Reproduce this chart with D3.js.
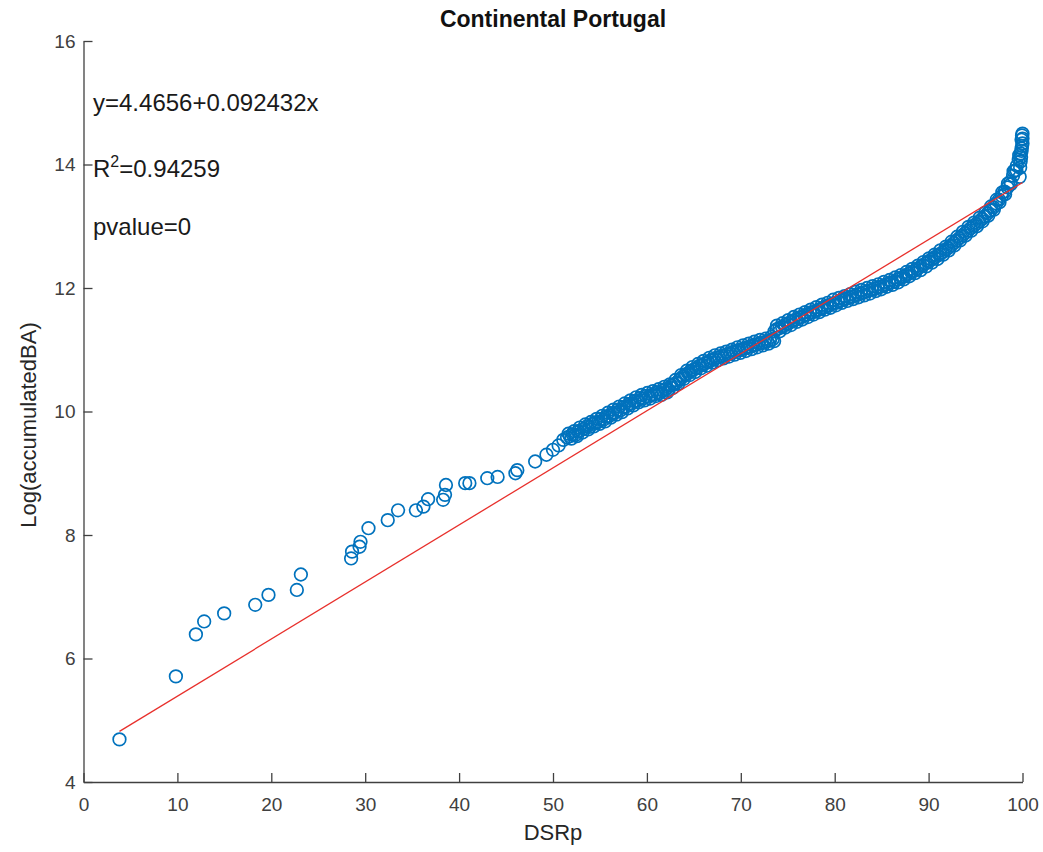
<!DOCTYPE html>
<html>
<head>
<meta charset="utf-8">
<script src="https://cdn.jsdelivr.net/npm/d3@7"></script>
<style>
  body { margin: 0; background: #fff; }
  svg { display: block; font-family: "Liberation Sans", Arial, Helvetica, sans-serif; }
</style>
</head>
<body>
<svg id="svg" width="1043" height="852"></svg>
<script>
// scatter: DSRp vs log of accumulated burnt area
let dsrp = [
  3.83, 9.84, 11.97, 12.85, 14.98, 18.29, 19.70, 22.72, 23.15, 28.5, 28.6, 29.4, 29.5, 30.35,
  32.4, 33.5, 35.4, 36.2, 36.7, 38.3, 38.5, 38.6, 40.65, 41.1, 43.0, 44.1, 46.0, 46.2, 48.1,
  49.3, 50.0, 50.6, 51.1,
  51.5, 51.8, 52.1, 52.4, 52.7, 53.0, 53.3, 53.6, 53.9, 54.2, 54.5, 54.8, 55.1, 55.4, 55.7,
  56.0, 56.3, 56.6, 56.9, 57.2, 57.5, 57.8, 58.1, 58.4, 58.7, 59.0, 59.3, 59.6, 59.9, 60.2,
  60.5, 60.8, 61.1, 61.4, 61.7, 62.0, 62.3, 62.6, 62.9, 63.2, 63.5, 63.8, 64.1, 64.4, 64.7,
  65.0, 65.3, 65.6, 65.9, 66.2, 66.5, 66.8, 67.1, 67.4, 67.7, 68.0, 68.3, 68.6, 68.9, 69.2,
  69.5, 69.8, 70.1, 70.4, 70.7, 71.0, 71.3, 71.6, 71.9, 72.2, 72.5, 72.8, 73.1, 73.4, 73.6,
  73.8, 74.1, 74.4, 74.7, 75.0, 75.3, 75.6, 75.9, 76.2, 76.5, 76.8, 77.1, 77.4, 77.7, 78.0,
  78.3, 78.6, 78.9, 79.2, 79.5, 79.8, 80.1, 80.4, 80.7, 81.0, 81.3, 81.6, 81.9, 82.2, 82.5,
  82.8, 83.1, 83.4, 83.7, 84.0, 84.3, 84.6, 84.9, 85.2, 85.5, 85.8, 86.1, 86.4, 86.7, 87.0,
  87.3, 87.6, 87.9, 88.2, 88.5, 88.8, 89.1, 89.4, 89.7, 90.0, 90.3, 90.6, 90.9, 91.2, 91.5,
  91.8, 92.1, 92.4, 92.7, 93.0, 93.3, 93.6, 93.9, 94.2, 94.5, 94.8, 95.1, 95.4, 95.7, 96.0,
  96.3, 96.6, 96.9, 97.2, 97.5, 97.8, 98.1, 98.4, 98.7, 99.0, 99.2, 99.4, 99.6, 99.8, 99.9,
  100.0, 100.0, 100.0
];
let logBA = [
  4.69, 5.71, 6.39, 6.60, 6.73, 6.87, 7.03, 7.11, 7.36, 7.62, 7.73, 7.81, 7.89, 8.11,
  8.24, 8.40, 8.40, 8.46, 8.58, 8.57, 8.65, 8.81, 8.84, 8.84, 8.92, 8.94, 9.00, 9.05, 9.19,
  9.30, 9.38, 9.45, 9.54,
  9.58, 9.60, 9.63, 9.62, 9.68, 9.70, 9.72, 9.76, 9.75, 9.80, 9.82, 9.83, 9.88, 9.87, 9.92,
  9.93, 9.97, 9.98, 10.03, 10.02, 10.07, 10.08, 10.12, 10.13, 10.17, 10.18, 10.22, 10.21, 10.25, 10.24,
  10.27, 10.28, 10.31, 10.30, 10.34, 10.36, 10.35, 10.42, 10.44, 10.47, 10.52, 10.56, 10.60, 10.62, 10.66,
  10.68, 10.70, 10.74, 10.75, 10.78, 10.80, 10.83, 10.84, 10.87, 10.88, 10.90, 10.91, 10.93, 10.94, 10.96,
  10.98, 10.99, 11.01, 11.02, 11.04, 11.05, 11.07, 11.08, 11.10, 11.11, 11.12, 11.14, 11.15, 11.17, 11.30,
  11.33, 11.35, 11.37, 11.40, 11.42, 11.45, 11.47, 11.49, 11.52, 11.53, 11.56, 11.57, 11.60, 11.61, 11.63,
  11.65, 11.67, 11.69, 11.71, 11.72, 11.75, 11.76, 11.78, 11.80, 11.82, 11.83, 11.85, 11.86, 11.88, 11.90,
  11.91, 11.93, 11.94, 11.96, 11.97, 11.99, 12.01, 12.02, 12.04, 12.06, 12.08, 12.09, 12.11, 12.14, 12.16,
  12.18, 12.21, 12.23, 12.26, 12.28, 12.31, 12.34, 12.37, 12.40, 12.43, 12.46, 12.49, 12.52, 12.55, 12.58,
  12.62, 12.65, 12.69, 12.73, 12.77, 12.81, 12.85, 12.89, 12.93, 12.97, 13.01, 13.04, 13.08, 13.12, 13.16,
  13.21, 13.26, 13.31, 13.37, 13.43, 13.49, 13.56, 13.63, 13.72, 13.82, 13.90, 13.98, 14.08, 14.18, 14.26,
  14.34, 14.42, 14.50
];

// second layer of the dense part (points either side of the main run)
let dsrpDense = [
  51.65, 51.95, 52.25, 52.55, 52.85, 53.15, 53.45, 53.75, 54.05, 54.35, 54.65, 54.95, 55.25, 55.55,
  55.85, 56.15, 56.45, 56.75, 57.05, 57.35, 57.65, 57.95, 58.25, 58.55, 58.85, 59.15, 59.45, 59.75,
  60.05, 60.35, 60.65, 60.95, 61.25, 61.55, 61.85, 62.15, 62.45, 62.75, 63.05, 63.35, 63.65, 63.95,
  64.25, 64.55, 64.85, 65.15, 65.45, 65.75, 66.05, 66.35, 66.65, 66.95, 67.25, 67.55, 67.85, 68.15,
  68.45, 68.75, 69.05, 69.35, 69.65, 69.95, 70.25, 70.55, 70.85, 71.15, 71.45, 71.75, 72.05, 72.35,
  72.65, 72.95, 73.25, 73.55, 73.85, 74.15, 74.45, 74.75, 75.05, 75.35, 75.65, 75.95, 76.25, 76.55,
  76.85, 77.15, 77.45, 77.75, 78.05, 78.35, 78.65, 78.95, 79.25, 79.55, 79.85, 80.15, 80.45, 80.75,
  81.05, 81.35, 81.65, 81.95, 82.25, 82.55, 82.85, 83.15, 83.45, 83.75, 84.05, 84.35, 84.65, 84.95,
  85.25, 85.55, 85.85, 86.15, 86.45, 86.75, 87.05, 87.35, 87.65, 87.95, 88.25, 88.55, 88.85, 89.15,
  89.45, 89.75, 90.05, 90.35, 90.65, 90.95, 91.25, 91.55, 91.85, 92.15, 92.45, 92.75, 93.05, 93.35,
  93.65, 93.95, 94.25, 94.55, 94.85, 95.15, 95.45, 95.75, 96.05, 96.35, 96.65, 96.95, 97.25, 97.55,
  97.85, 98.15, 98.45, 98.75, 99.05, 99.35, 99.65,
  99.7, 99.75, 99.8, 99.85, 99.9, 99.95, 99.9, 99.95
];
let logBADense = [
  9.64, 9.56, 9.68, 9.60, 9.74, 9.66, 9.79, 9.71, 9.83, 9.76, 9.88, 9.80, 9.93, 9.84,
  9.98, 9.90, 10.03, 9.95, 10.08, 9.99, 10.13, 10.05, 10.18, 10.10, 10.23, 10.15, 10.27, 10.18,
  10.30, 10.21, 10.33, 10.25, 10.36, 10.27, 10.40, 10.31, 10.44, 10.38, 10.51, 10.45, 10.59, 10.53,
  10.66, 10.59, 10.72, 10.64, 10.77, 10.70, 10.82, 10.74, 10.87, 10.79, 10.91, 10.83, 10.94, 10.86,
  10.97, 10.89, 11.00, 10.92, 11.04, 10.95, 11.07, 10.98, 11.10, 11.01, 11.13, 11.04, 11.16, 11.07,
  11.18, 11.10, 11.21, 11.14, 11.39, 11.30, 11.43, 11.36, 11.48, 11.40, 11.53, 11.45, 11.57, 11.49,
  11.61, 11.53, 11.65, 11.57, 11.69, 11.61, 11.73, 11.65, 11.76, 11.68, 11.81, 11.72, 11.84, 11.76,
  11.87, 11.79, 11.90, 11.82, 11.94, 11.85, 11.97, 11.88, 12.00, 11.91, 12.03, 11.95, 12.06, 11.98,
  12.10, 12.02, 12.13, 12.05, 12.17, 12.09, 12.21, 12.14, 12.26, 12.19, 12.31, 12.24, 12.36, 12.29,
  12.42, 12.35, 12.48, 12.41, 12.54, 12.47, 12.61, 12.54, 12.67, 12.61, 12.75, 12.69, 12.83, 12.77,
  12.91, 12.85, 12.99, 12.93, 13.06, 13.00, 13.14, 13.08, 13.22, 13.17, 13.32, 13.27, 13.43, 13.39,
  13.55, 13.52, 13.69, 13.68, 13.89, 13.91, 14.15,
  13.80, 13.95, 14.05, 14.12, 14.22, 14.30, 14.40, 14.47
];

// regression shown in the figure
let fitIntercept = 4.4656;
let fitSlope = 0.092432;
let annotations = ["y=4.4656+0.092432x", "R", "=0.94259", "pvalue=0"];

let xTicks = [0, 10, 20, 30, 40, 50, 60, 70, 80, 90, 100];
let yTicks = [4, 6, 8, 10, 12, 14, 16];

let svg = d3.select("svg");

let m = {left: 83.5, right: 1022.5, top: 41, bottom: 782};

let x = d3.scaleLinear().domain([0, 100]).range([m.left, m.right]);
let y = d3.scaleLinear().domain([4, 16]).range([m.bottom, m.top]);

let axisColor = "#404040";

// axes (MATLAB style: ticks pointing in, no box)
let xAxis = svg.append("g")
    .attr("transform", "translate(0," + m.bottom + ")")
    .call(d3.axisBottom(x).tickValues(xTicks).tickSizeInner(-9).tickSizeOuter(0).tickPadding(16));
let yAxis = svg.append("g")
    .attr("transform", "translate(" + m.left + ",0)")
    .call(d3.axisLeft(y).tickValues(yTicks).tickSizeInner(-9).tickSizeOuter(0).tickPadding(8));

[xAxis, yAxis].forEach(function(g) {
  g.select(".domain").attr("stroke", axisColor).attr("stroke-width", 1.3);
  g.selectAll(".tick line").attr("stroke", axisColor).attr("stroke-width", 1.3);
  g.selectAll(".tick text")
      .attr("fill", axisColor)
      .style("font-size", "19px")
      .style("font-family", "'Liberation Sans', Arial, sans-serif");
});

// points
let pts = dsrp.map(function(d, i) { return {x: d, y: logBA[i]}; })
    .concat(dsrpDense.map(function(d, i) { return {x: d, y: logBADense[i]}; }));

svg.append("g")
  .selectAll("circle")
  .data(pts)
  .enter().append("circle")
    .attr("cx", function(d) { return x(d.x); })
    .attr("cy", function(d) { return y(d.y); })
    .attr("r", 6.3)
    .attr("fill", "none")
    .attr("stroke", "#0072BD")
    .attr("stroke-width", 1.7);

// fit line from min to max x
let xMin = d3.min(dsrp), xMax = d3.max(dsrp);
svg.append("line")
    .attr("x1", x(xMin))
    .attr("y1", y(fitIntercept + fitSlope * xMin))
    .attr("x2", x(xMax))
    .attr("y2", y(fitIntercept + fitSlope * xMax))
    .attr("stroke", "#e8302c")
    .attr("stroke-width", 1.3);

// title + labels
svg.append("text")
    .attr("x", (m.left + m.right) / 2)
    .attr("y", 27)
    .attr("text-anchor", "middle")
    .style("font-size", "23px")
    .style("font-weight", "bold")
    .attr("fill", "#111")
    .text("Continental Portugal");

svg.append("text")
    .attr("x", (m.left + m.right) / 2)
    .attr("y", 840)
    .attr("text-anchor", "middle")
    .style("font-size", "22px")
    .attr("fill", "#262626")
    .text("DSRp");

svg.append("text")
    .attr("transform", "translate(36," + 425 + ") rotate(-90)")
    .attr("text-anchor", "middle")
    .style("font-size", "22px")
    .attr("fill", "#262626")
    .text("Log(accumulatedBA)");

// annotation text
let ann = svg.append("g")
    .style("font-size", "24px")
    .attr("fill", "#1a1a1a");
ann.append("text").attr("x", 93).attr("y", 111).text(annotations[0]);
let r2 = ann.append("text").attr("x", 93).attr("y", 177);
r2.append("tspan").text(annotations[1]);
r2.append("tspan").attr("dy", -10).style("font-size", "16px").text("2");
r2.append("tspan").attr("dy", 10).text(annotations[2]);
ann.append("text").attr("x", 93).attr("y", 235).text(annotations[3]);
</script>
</body>
</html>
